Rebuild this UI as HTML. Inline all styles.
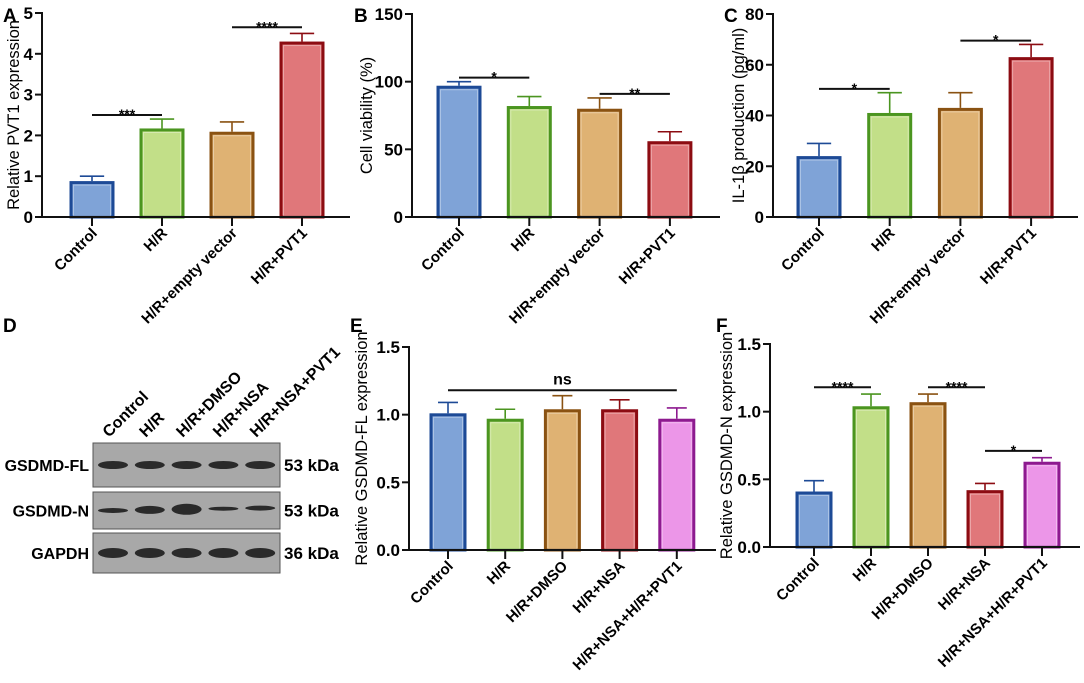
<!DOCTYPE html>
<html><head><meta charset="utf-8"><style>
body{margin:0;background:#fff;}
svg{display:block;font-family:"Liberation Sans",Arial,sans-serif;}
</style></head><body>
<svg id="fig" width="1084" height="683" viewBox="0 0 1084 683" xmlns="http://www.w3.org/2000/svg">
<text x="3" y="22" font-size="19" font-weight="bold">A</text>
<text x="354" y="22" font-size="19" font-weight="bold">B</text>
<text x="724" y="22" font-size="19" font-weight="bold">C</text>
<text x="3" y="332" font-size="19" font-weight="bold">D</text>
<text x="350" y="332" font-size="19" font-weight="bold">E</text>
<text x="716" y="332" font-size="19" font-weight="bold">F</text>
<g id="blot"></g>
</svg>
<script>
// Panel A
const catA = ["Control","H/R","H/R+empty vector","H/R+PVT1"];
const valA = [0.88, 2.17, 2.09, 4.3];
const errA = [1.0, 2.4, 2.33, 4.5];
const ticksA = [0,1,2,3,4,5];
const sigA = [[0,1,2.5,"***"],[2,3,4.65,"****"]];
// Panel B
const catB = catA;
const valB = [97, 82, 80, 56];
const errB = [100, 89, 88, 63];
const ticksB = [0,50,100,150];
const sigB = [[0,1,103,"*"],[2,3,91,"**"]];
// Panel C
const catC = catA;
const valC = [24, 41, 43, 63];
const errC = [29, 49, 49, 68];
const ticksC = [0,20,40,60,80];
const sigC = [[0,1,50.5,"*"],[2,3,69.5,"*"]];
// Panel E
const catE = ["Control","H/R","H/R+DMSO","H/R+NSA","H/R+NSA+H/R+PVT1"];
const valE = [1.01, 0.97, 1.04, 1.04, 0.97];
const errE = [1.09, 1.04, 1.14, 1.11, 1.05];
const ticksE = ["0.0","0.5","1.0","1.5"];
const sigE = [[0,4,1.18,"ns"]];
// Panel F
const catF = catE;
const valF = [0.41, 1.04, 1.07, 0.42, 0.63];
const errF = [0.49, 1.13, 1.13, 0.47, 0.66];
const ticksF = ["0.0","0.5","1.0","1.5"];
const sigF = [[0,1,1.18,"****"],[2,3,1.18,"****"],[3,4,0.71,"*"]];

const fills = ["#7fa3d7","#c2df88","#dfb273","#e0777a","#ec96e8"];
const strokes = ["#1d4a96","#4b9520","#8a5212","#8c0c12","#8d1a8f"];
const NS = "http://www.w3.org/2000/svg";
const svg = document.getElementById('fig');
function mk(tag, attrs, parent){const e=document.createElementNS(NS,tag);for(const k in attrs)e.setAttribute(k,attrs[k]);(parent||svg).appendChild(e);return e;}

function chart(id, cfg, cats, vals, errs, ticks, sigs){
  const g = mk('g',{});
  
  
  const tickNums = ticks.map(Number);
  const ymax = tickNums[tickNums.length-1];
  const y = v => cfg.y0 - (v/ymax)*(cfg.y0-cfg.y1);
  const x = i => cfg.c0 + i*cfg.step;
  vals.forEach((v,i)=>{
    const bw=cfg.bw, xc=x(i);
    const eb = mk('g',{},g);
    
    
    mk('line',{x1:xc,x2:xc,y1:y(v),y2:y(errs[i]),stroke:strokes[i],'stroke-width':1.6},eb);
    mk('line',{x1:xc-bw*0.27,x2:xc+bw*0.27,y1:y(errs[i]),y2:y(errs[i]),stroke:strokes[i],'stroke-width':1.6},eb);
    const r = mk('rect',{x:xc-bw/2+1.5,y:y(v)+1.5,width:bw-3,height:Math.max(0,cfg.y0-y(v)-1.5),fill:fills[i],stroke:strokes[i],'stroke-width':3},g);
    
    
    mk('rect',{x:xc-bw/2+4,y:y(v)+4,width:bw-8,height:Math.max(0,cfg.y0-y(v)-5),fill:'none',stroke:'#fff','stroke-opacity':0.35,'stroke-width':1},g);
  });
  const ax = mk('g',{},g);
  
  
  mk('line',{x1:cfg.ax,x2:cfg.ax,y1:cfg.y1-1,y2:cfg.y0,stroke:'#111','stroke-width':2},ax);
  mk('line',{x1:cfg.ax-7,x2:cfg.xend,y1:cfg.y0,y2:cfg.y0,stroke:'#111','stroke-width':2},ax);
  ticks.forEach(t=>{
    const yy=y(Number(t));
    mk('line',{x1:cfg.ax-7,x2:cfg.ax,y1:yy,y2:yy,stroke:'#111','stroke-width':2},ax);
    const tx = mk('text',{x:cfg.ax-9,y:yy+6,'font-size':17,'font-weight':'bold','text-anchor':'end'},ax);
    tx.textContent=t;
    
    
  });
  cats.forEach((c,i)=>{
    mk('line',{x1:x(i),x2:x(i),y1:cfg.y0,y2:cfg.y0+9,stroke:'#111','stroke-width':2},ax);
    const tx = mk('text',{transform:`translate(${x(i)+6},${cfg.y0+17}) rotate(-45)`,'font-size':15,'font-weight':'bold','text-anchor':'end'},ax);
    tx.textContent=c;
    
    
  });
  const yt = mk('text',{transform:`translate(${cfg.tx},${(cfg.y0+cfg.y1)/2}) rotate(-90)`,'font-size':16.5,'text-anchor':'middle'},g);
  yt.textContent=cfg.title;
  
  
  sigs.forEach(s=>{
    const sg = mk('g',{},g);
    
    
    const yy=y(s[2]);
    mk('line',{x1:x(s[0]),x2:x(s[1]),y1:yy,y2:yy,stroke:'#111','stroke-width':2},sg);
    const st = s[3]==='ns';
    const tx = mk('text',{x:(x(s[0])+x(s[1]))/2,y:st?yy-6:yy+4,'font-size':st?16:14,'font-weight':'bold','text-anchor':'middle'},sg);
    tx.textContent=s[3];
  });
}
chart('panel-a',{ax:42,xend:350,y0:217,y1:13,c0:92,step:70,bw:45,tx:19,title:'Relative PVT1 expression'},catA,valA,errA,ticksA,sigA);
chart('panel-b',{ax:412,xend:720,y0:217,y1:14,c0:459,step:70.3,bw:45,tx:372,title:'Cell viability (%)'},catB,valB,errB,ticksB,sigB);
chart('panel-c',{ax:773,xend:1078,y0:217,y1:14,c0:819,step:70.7,bw:45,tx:744,title:'IL-1\u03b2 production (pg/ml)'},catC,valC,errC,ticksC,sigC);
chart('panel-e',{ax:409,xend:716,y0:550,y1:347,c0:448,step:57.2,bw:37,tx:367,title:'Relative GSDMD-FL expression'},catE,valE,errE,ticksE,sigE);
chart('panel-f',{ax:770,xend:1080,y0:547,y1:344,c0:814,step:57,bw:37,tx:732,title:'Relative GSDMD-N expression'},catF,valF,errF,ticksF,sigF);

// Western blot
const lanes = ["Control","H/R","H/R+DMSO","H/R+NSA","H/R+NSA+PVT1"];
const rows = ["GSDMD-FL","GSDMD-N","GAPDH"];
const kda = ["53 kDa","53 kDa","36 kDa"];
const bandThick = [[8,8,8,8,8],[5,8,11,4,5],[10,10,10,10,10]];
const blot = document.getElementById('blot');
const laneX = i => 113 + i*36.8;
const rowTop = [443,492,533], rowH=[44,37,40];
lanes.forEach((l,i)=>{
  const t = mk('text',{transform:`translate(${laneX(i)-4},${438}) rotate(-45)`,'font-size':16,'font-weight':'bold'},blot);
  t.textContent=l;
  
  
});
rows.forEach((r,j)=>{
  const rg = mk('g',{},blot);
  
  
  mk('rect',{x:93,y:rowTop[j],width:187,height:rowH[j],fill:'#a8a8a8',stroke:'#555','stroke-width':1},rg);
  const cy=rowTop[j]+rowH[j]/2;
  bandThick[j].forEach((th,i)=>{
    mk('ellipse',{cx:laneX(i),cy:cy-(j===1?i*0.6:0),rx:15,ry:th/2,fill:'#2a2a2a'},rg);
  });
  const lt = mk('text',{x:89,y:cy+6,'font-size':16,'font-weight':'bold','text-anchor':'end'},rg);
  lt.textContent=r;
  const kt = mk('text',{x:284,y:cy+6,'font-size':17,'font-weight':'bold'},rg);
  kt.textContent=kda[j];
});
</script>
</body></html>
